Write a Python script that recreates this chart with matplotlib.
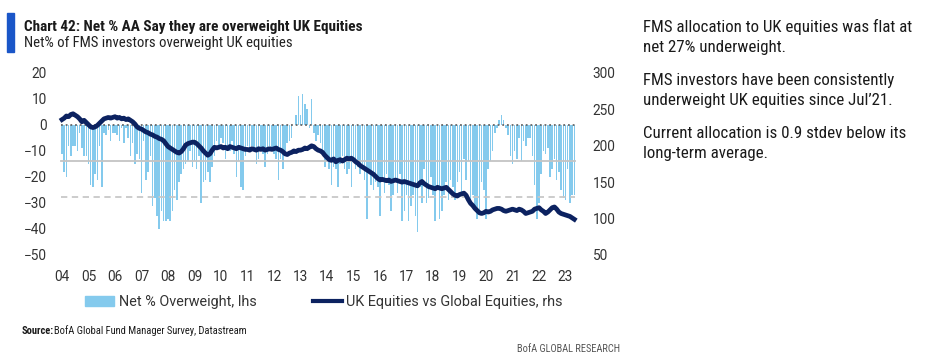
import numpy as np
import matplotlib
matplotlib.use('Agg')
import matplotlib.pyplot as plt
from matplotlib import font_manager
from matplotlib.patches import Rectangle
from matplotlib.lines import Line2D

# monthly data, Jan 2004 - May 2023
start_year = 2004
net_overweight = [
    -11, -18, -20, -8, -12, -8, -8, -10, -3, -9, -12, -12,      # 2004
    -15, -23, -24, -19, -21, -8, -24, -3, -4, -2, -6, -3,       # 2005
    -3, -4, -6, -1, -7, -1, -5, -12, -7, -15, -11, -13,         # 2006
    -26, -6, -21, -18, -12, -31, -28, -35, -40, -33, -37, -37,  # 2007
    -36, -37, -33, -25, -29, -22, -19, -17, -15, -14, -10, -16, # 2008
    -14, -17, -12, -30, -22, -21, -18, -22, -16, -12, -6, -8,   # 2009
    -5, -7, -13, -10, -10, -6, -11, -20, -14, -24, -25, -12,    # 2010
    -8, -10, -8, -10, -15, -13, -9, -11, -16, -11, -8, -10,     # 2011
    -11, -13, -21, -13, -17, -10, -7, -6, -5, 0, 4, 11,         # 2012
    4, 12, 8, 6, -1, 10, -3, -6, -4, -7, -11, -16,              # 2013
    -12, -17, -23, -16, -17, -24, -15, -12, -17, -19, -17, -24, # 2014
    -13, -17, -16, -19, -15, -21, -36, -18, -23, -25, -22, -24, # 2015
    -35, -22, -26, -19, -23, -33, -27, -22, -26, -19, -37, -33, # 2016
    -27, -37, -31, -27, -35, -41, -24, -30, -17, -30, -28, -20, # 2017
    -27, -37, -25, -36, -33, -27, -22, -29, -21, -24, -29, -22, # 2018
    -18, -27, -13, -21, -14, -29, -27, -33, -36, -34, -22, -25, # 2019
    -36, -17, -14, -10, -3, -1, 2, 4, 2, -1, -4, -12,           # 2020
    -15, -10, -13, -5, -14, -6, -8, -5, -5, -12, -23, -36,      # 2021
    -30, -19, -10, -11, -9, -20, -17, -13, -21, -18, -25, -28,  # 2022
    -29, -17, -30, -27, -27,                                    # 2023
]
uk_vs_global = [
    236, 238, 241, 240, 243, 244, 242, 240, 237, 233, 235, 232,
    229, 226, 225, 226, 228, 231, 234, 237, 238, 239, 238, 239,
    240, 238, 239, 237, 238, 236, 237, 235, 233, 230, 226, 224,
    223, 221, 219, 218, 216, 215, 213, 212, 210, 209, 207, 203,
    199, 197, 195, 193, 191, 190, 192, 196, 201, 203, 204, 205,
    205, 203, 200, 197, 193, 190, 187, 189, 194, 198, 197, 198,
    199, 197, 198, 196, 199, 198, 197, 196, 198, 197, 196, 195,
    195, 194, 196, 195, 194, 196, 195, 196, 194, 195, 196, 195,
    196, 197, 195, 194, 192, 189, 188, 190, 191, 193, 192, 194,
    194, 195, 197, 196, 198, 200, 199, 196, 194, 193, 191, 187,
    184, 181, 180, 182, 178, 180, 181, 179, 181, 183, 182, 183,
    181, 178, 176, 173, 171, 169, 167, 165, 163, 161, 158, 155,
    153, 154, 153, 152, 153, 151, 152, 153, 152, 151, 150, 151,
    150, 149, 148, 147, 146, 145, 149, 151, 148, 146, 144, 143,
    142, 141, 143, 142, 141, 142, 143, 140, 137, 134, 132, 131,
    133, 134, 135, 132, 126, 121, 118, 114, 111, 108, 107, 108,
    110, 109, 110, 112, 113, 114, 114, 113, 111, 110, 111, 112,
    113, 112, 111, 113, 112, 110, 107, 108, 109, 110, 113, 114,
    115, 112, 110, 107, 109, 112, 115, 116, 113, 109, 107, 106,
    105, 104, 103, 101, 99,
]
long_term_avg = -13.7
avg_minus_1sd = -27.7
years = list(range(2004, 2024))
year_labels = [f"{y % 100:02d}" for y in years]

BAR_C = '#84caed'
LINE_C = '#0c2260'
TXT_C = '#1a1a1a'


def pick_font(names):
    for n in names:
        try:
            font_manager.findfont(n, fallback_to_default=False)
            return n
        except ValueError:
            continue
    return 'DejaVu Sans'


narrow = pick_font(['Roboto Condensed', 'Liberation Sans Narrow', 'Roboto'])
regular = pick_font(['Roboto', 'Open Sans'])
plt.rcParams['font.family'] = narrow

W, H = 926, 359
fig = plt.figure(figsize=(W / 100, H / 100), dpi=100)


def fx(px):
    return px / W


def fy(py):
    return 1 - py / H


x = start_year + np.arange(len(net_overweight)) / 12.0
px_per_year = 26.5
ax = fig.add_axes([fx(55), fy(255), fx(580 - 55), (255 - 73) / H])
ax.set_xlim(2004 - 7 / px_per_year, 2004 + (580 - 62) / px_per_year)
ax.set_ylim(-50, 20)

ax.bar(x, net_overweight, width=0.68 / 12, color=BAR_C, zorder=2, linewidth=0)
x0, x1 = x[0] - 0.02, x[-1] + 0.03
ax.plot([x0, x1], [0, 0], color='#666666', lw=1.3, ls=(0, (1, 1.6)), zorder=3)
ax.plot([x0, x1], [long_term_avg] * 2, color='#c4c4c4', lw=1.3, zorder=3)
ax.plot([x0, x1], [avg_minus_1sd] * 2, color='#c8c8c8', lw=1.3,
        ls=(0, (3.5, 2.5)), zorder=3)

ax.set_yticks(range(-50, 21, 10))
ax.set_xticks(years)
ax.set_xticklabels(year_labels)
ax.tick_params(length=0, labelsize=9.8, colors='#333333')
ax.tick_params(axis='y', pad=6)
ax.tick_params(axis='x', pad=11)

ax2 = ax.twinx()
ax2.plot(x, uk_vs_global, color=LINE_C, lw=3.4, solid_joinstyle='round', zorder=4)
ax2.set_ylim(50, 300)
ax2.set_yticks(range(50, 301, 50))
ax2.tick_params(length=0, labelsize=9.8, colors='#333333', pad=9)

for a in (ax, ax2):
    for s in a.spines.values():
        s.set_visible(False)
    for lab in a.get_xticklabels() + a.get_yticklabels():
        lab.set_fontfamily(regular)

# legend
handles = [Rectangle((0, 0), 1, 1, color=BAR_C),
           Line2D([], [], color=LINE_C, lw=3)]
fig.legend(handles, ['Net % Overweight, lhs', 'UK Equities vs Global Equities, rhs'],
           loc='center', bbox_to_anchor=(fx(324), fy(302)), ncol=2, frameon=False,
           prop={'family': regular, 'size': 10.4}, handlelength=2.0,
           handletextpad=0.3, columnspacing=3.9, labelcolor='#333333')

# title block
fig.patches.append(Rectangle((fx(7), fy(52)), fx(7), (52 - 13) / H,
                             transform=fig.transFigure, color='#1a56c8'))
fig.text(fx(24), fy(30.5), 'Chart 42: Net % AA Say they are overweight UK Equities',
         fontsize=11, fontweight='bold', color=TXT_C, va='baseline')
fig.text(fx(24), fy(46.5), 'Net% of FMS investors overweight UK equities',
         fontsize=10.6, color='#222222', va='baseline')

# commentary
lines = [('FMS allocation to UK equities was flat at', 31.7),
         ('net 27% underweight.', 51.7),
         ('FMS investors have been consistently', 85),
         ('underweight UK equities since Jul\u201921.', 105),
         ('Current allocation is 0.9 stdev below its', 137.5),
         ('long-term average.', 158)]
for t, yb in lines:
    fig.text(fx(643), fy(yb), t, fontsize=12.2, color=TXT_C, va='baseline')

# source / footer
fig.text(fx(22), fy(334), 'Source:', fontsize=7.6, fontweight='bold', color=TXT_C,
         va='baseline')
fig.text(fx(54), fy(334), 'BofA Global Fund Manager Survey, Datastream', fontsize=7.6,
         color=TXT_C, va='baseline')
fig.text(fx(620), fy(352), 'BofA GLOBAL RESEARCH', fontsize=7.5, color='#555555',
         va='baseline', ha='right')

fig.savefig('out.png', dpi=100, facecolor='white')
